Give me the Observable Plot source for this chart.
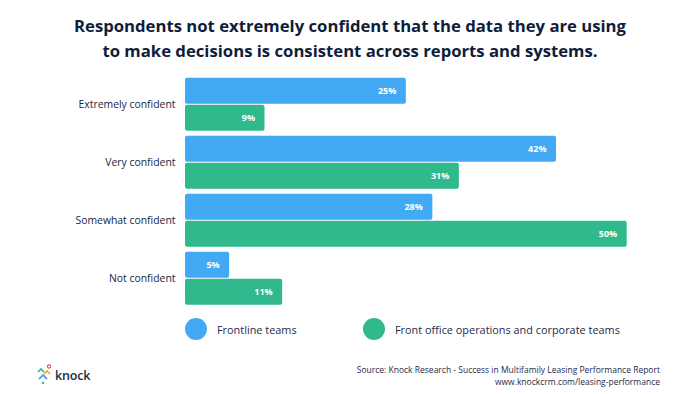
<!DOCTYPE html>
<html>
<head>
<meta charset="utf-8">
<script src="https://cdn.jsdelivr.net/npm/d3@7"></script>
<script src="https://cdn.jsdelivr.net/npm/@observablehq/plot@0.6"></script>
<style>
  html, body { margin: 0; padding: 0; background: #fff; }
  #wrap { position: relative; width: 700px; height: 394px; overflow: hidden; font-family: "Open Sans", sans-serif; color: #14213d; }
  #title { position: absolute; top: 13px; left: 0; width: 700px; text-align: center; font-weight: 700; font-size: 16.7px; line-height: 25px; color: #0f1d3a; }
  #chart { position: absolute; top: 0; left: 0; }
  .leg { position: absolute; top: 318px; display: flex; align-items: center; font-size: 10.9px; color: #1e2a48; }
  .dot { width: 22px; height: 22px; border-radius: 50%; margin-right: 10px; }
  #source { position: absolute; right: 40px; top: 364px; text-align: right; font-size: 8.5px; line-height: 11.5px; color: #1e2a48; }
  #logo { position: absolute; left: 37px; top: 364px; display: flex; align-items: center; }
  #logo span { font-size: 12.5px; color: #1e2a48; margin-left: 2px; font-weight: 600; letter-spacing: -0.2px; }
</style>
</head>
<body>
<div id="wrap">
  <div id="title">Respondents not extremely confident that the data they are using<br>to make decisions is consistent across reports and systems.</div>
  <div id="chart"></div>
  <div class="leg" style="left:185px"><div class="dot" style="background:#42a9f4"></div>Frontline teams</div>
  <div class="leg" style="left:363px"><div class="dot" style="background:#31b98e"></div>Front office operations and corporate teams</div>
  <div id="logo">
    <svg width="16" height="22" viewBox="0 0 16 22">
      <polyline points="2,15 6,11 10,15" fill="none" stroke="#42a9f4" stroke-width="1.8"/>
      <circle cx="6" cy="19" r="1.3" fill="#42a9f4"/>
      <polyline points="7,10 10,7 13,10" fill="none" stroke="#f5a623" stroke-width="1.6"/>
      <polyline points="1,8 4,5 7,8" fill="none" stroke="#31b98e" stroke-width="1.6"/>
      <circle cx="12" cy="2.5" r="1.6" fill="none" stroke="#e8457a" stroke-width="1.1"/>
    </svg>
    <span>knock</span>
  </div>
  <div id="source">Source: Knock Research - Success in Multifamily Leasing Performance Report<br>www.knockcrm.com/leasing-performance</div>
</div>
<script>
const categories = ["Extremely confident", "Very confident", "Somewhat confident", "Not confident"];
const series = ["Frontline teams", "Front office operations and corporate teams"];
const frontline = [25, 42, 28, 5];
const frontOffice = [9, 31, 50, 11];
const colors = ["#42a9f4", "#31b98e"];

const data = [];
categories.forEach((c, i) => {
  data.push({category: c, series: series[0], value: frontline[i]});
  data.push({category: c, series: series[1], value: frontOffice[i]});
});

const chart = Plot.plot({
  width: 700,
  height: 394,
  marginTop: 77.3,
  marginBottom: 88.7,
  marginLeft: 185,
  marginRight: 73.3,
  style: {fontFamily: "Open Sans, sans-serif", fontSize: "10.4px", color: "#1a2542", background: "transparent"},
  x: {domain: [0, 50], axis: null},
  y: {domain: series, axis: null, paddingInner: 0.04, paddingOuter: 0},
  fy: {domain: categories, paddingInner: 0.094, paddingOuter: 0, axis: "left", label: null, tickSize: 0, tickPadding: 10},
  color: {domain: series, range: colors},
  marks: [
    Plot.barX(data, {fy: "category", y: "series", x: "value", fill: "series", rx: 2}),
    Plot.text(data, {fy: "category", y: "series", x: "value", text: d => d.value + "%", textAnchor: "end", dx: -10, fill: "white", fontWeight: "bold", fontSize: 9})
  ]
});
document.getElementById("chart").appendChild(chart);
</script>
</body>
</html>
